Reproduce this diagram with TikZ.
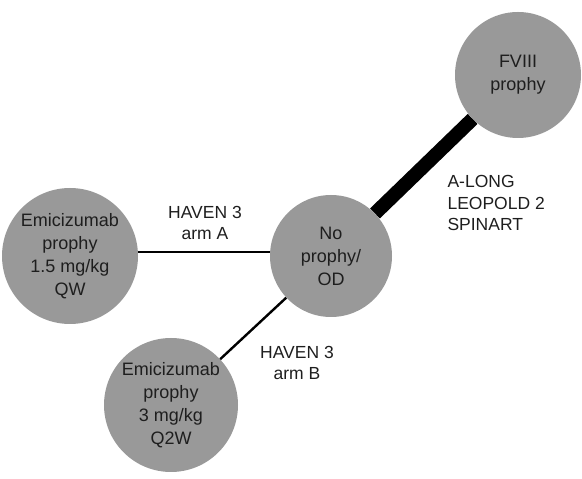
\documentclass[tikz,border=0pt]{standalone}
\usepackage{fontspec}
\setmainfont{Liberation Sans}
\definecolor{circfill}{RGB}{153,153,153}
\definecolor{txt}{RGB}{30,30,30}
\begin{document}
\begin{tikzpicture}[x=1pt,y=1pt,
  arm/.style={circle,fill=circfill,inner sep=0pt,align=center,text=txt,
    font=\fontsize{18}{23}\selectfont},
  lab/.style={text=txt,font=\fontsize{17.5}{21.5}\selectfont},
  thin/.style={line width=2.4pt,black},
  thick/.style={line width=14pt,black}]
\useasboundingbox (0,0) rectangle (582,479);
\node[arm,minimum size=126pt] (fviii) at (518,404) {FVIII\\prophy};
\node[arm,minimum size=122pt] (none) at (331,223) {No\\prophy/\\OD};
\node[arm,minimum size=136pt] (emiA) at (70,223) {Emicizumab\\prophy\\1.5 mg/kg\\QW};
\node[arm,minimum size=134pt] (emiB) at (171,74) {Emicizumab\\prophy\\3 mg/kg\\Q2W};
\draw[thick] (none) -- (fviii);
\draw[thin] (emiA.east |- 0,227) -- (none.west |- 0,227);
\draw[thin] (emiB) -- (none);
\node[lab,align=center] (labA) at (205,256) {HAVEN 3\\arm A};
\node[lab,align=center] (labB) at (297,116) {HAVEN 3\\arm B};
\node[lab,align=left,anchor=west] (labF) at (444,276) {A-LONG\\LEOPOLD 2\\SPINART};
\end{tikzpicture}
\end{document}
